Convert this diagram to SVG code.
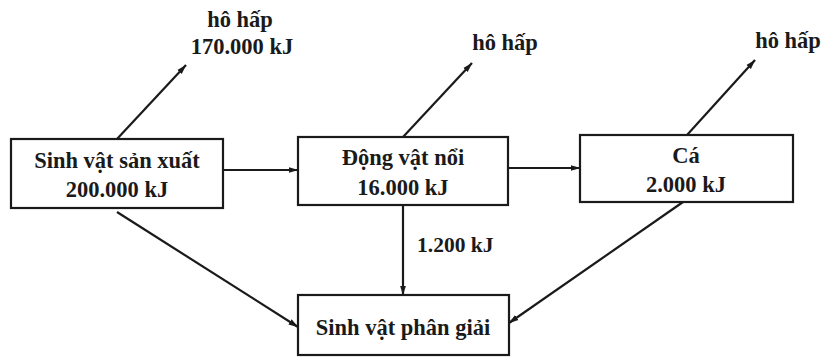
<svg xmlns="http://www.w3.org/2000/svg" width="827" height="358" viewBox="0 0 827 358">
<style>
.box{fill:#fff;stroke:#1a1a1a;stroke-width:2.2}
.t{font-family:"Liberation Serif","Times New Roman",serif;font-weight:bold;font-size:22.5px;fill:#1a1a1a;text-anchor:middle}
.lbl{font-family:"Liberation Serif","Times New Roman",serif;font-weight:bold;font-size:21.5px;fill:#1a1a1a}
.c{fill:none;stroke:#1a1a1a;stroke-width:2.2;marker-end:url(#ah)}
</style>
<defs>
<marker id="ah" markerUnits="userSpaceOnUse" markerWidth="10" markerHeight="7" refX="9.5" refY="3.5" orient="auto">
<path d="M0,0.5 L10,3.5 L0,6.5 z" fill="#1a1a1a"/>
</marker>
</defs>
<rect width="827" height="358" fill="#fff"/>
<g id="connectors">
<line class="c" x1="117" y1="139" x2="186" y2="65"/>
<line class="c" x1="403" y1="137" x2="472" y2="63"/>
<line class="c" x1="687" y1="135" x2="755" y2="60"/>
<line class="c" x1="223" y1="170" x2="298" y2="170"/>
<line class="c" x1="508" y1="168" x2="580" y2="168"/>
<line class="c" x1="403" y1="205" x2="403" y2="295"/>
<line class="c" x1="117" y1="212" x2="298" y2="327"/>
<line class="c" x1="683" y1="202" x2="509" y2="323"/>
<text class="lbl" x="417" y="252">1.200 kJ</text>
<text class="t" x="240" y="27">hô hấp</text>
<text class="t" x="242" y="54">170.000 kJ</text>
<text class="t" x="505" y="50">hô hấp</text>
<text class="t" x="788" y="48">hô hấp</text>
</g>
<g id="node-producer">
<rect class="box" x="11" y="139" width="212" height="69"/>
<text class="t" x="117" y="168">Sinh vật sản xuất</text>
<text class="t" x="117" y="197">200.000 kJ</text>
</g>
<g id="node-zooplankton">
<rect class="box" x="298" y="137" width="210" height="68"/>
<text class="t" x="403" y="165">Động vật nổi</text>
<text class="t" x="403" y="195">16.000 kJ</text>
</g>
<g id="node-fish">
<rect class="box" x="580" y="135" width="213" height="67"/>
<text class="t" x="686" y="163">Cá</text>
<text class="t" x="686" y="192">2.000 kJ</text>
</g>
<g id="node-decomposer">
<rect class="box" x="298" y="295" width="211" height="60"/>
<text class="t" x="403" y="335">Sinh vật phân giải</text>
</g>
</svg>
